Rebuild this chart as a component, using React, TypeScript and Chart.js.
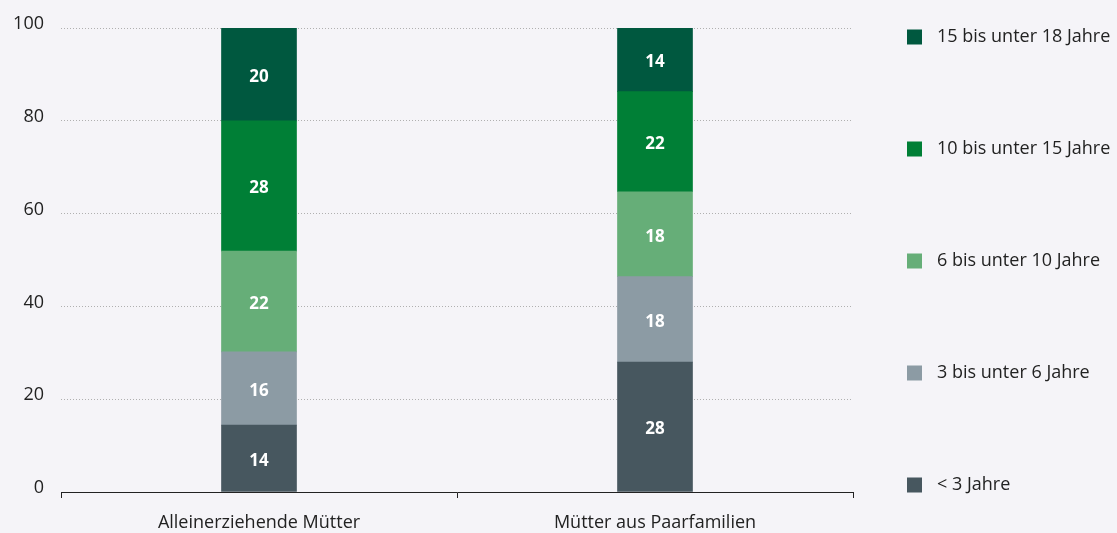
import React, { useEffect, useRef } from "react";
import { Chart, registerables } from "chart.js";

Chart.register(...registerables);

const categories = ["Alleinerziehende Mütter", "Mütter aus Paarfamilien"];
const seriesLabels = ["< 3 Jahre", "3 bis unter 6 Jahre", "6 bis unter 10 Jahre", "10 bis unter 15 Jahre", "15 bis unter 18 Jahre"];
const under3 = [14.4, 28.0];
const from3to6 = [15.8, 18.4];
const from6to10 = [21.7, 18.3];
const from10to15 = [28.1, 21.6];
const from15to18 = [20.0, 13.7];
const seriesColors = ["#47575f", "#8c9ba4", "#66ae78", "#007f36", "#00583f"];
const yTicks = [0, 20, 40, 60, 80, 100];

const FONT = "'Open Sans', 'Noto Sans', sans-serif";
const BG = "#f5f4f8";
const TEXT = "#222222";

const valueLabels = {
  id: "valueLabels",
  afterDatasetsDraw(chart: any) {
    const ctx = chart.ctx;
    ctx.save();
    ctx.fillStyle = "#ffffff";
    ctx.font = `bold 17px ${FONT}`;
    ctx.textAlign = "center";
    ctx.textBaseline = "middle";
    chart.data.datasets.forEach((ds: any, i: number) => {
      const meta = chart.getDatasetMeta(i);
      meta.data.forEach((bar: any, j: number) => {
        const v = ds.data[j];
        const y = (bar.y + bar.base) / 2;
        ctx.fillText(String(Math.round(v)), bar.x, y + 2.5);
      });
    });
    ctx.restore();
  },
};

const sideLegend = {
  id: "sideLegend",
  afterDraw(chart: any) {
    const ctx = chart.ctx;
    const ds = chart.data.datasets;
    const n = ds.length;
    const top = 37;
    const bottom = 485;
    const step = (bottom - top) / (n - 1);
    ctx.save();
    ctx.font = `18px ${FONT}`;
    ctx.textBaseline = "middle";
    ctx.textAlign = "left";
    for (let k = 0; k < n; k++) {
      const d = ds[n - 1 - k];
      const y = top + k * step;
      ctx.fillStyle = d.backgroundColor;
      ctx.fillRect(907, y - 7.5, 15, 15);
      ctx.fillStyle = TEXT;
      ctx.fillText(d.label, 937, y);
    }
    ctx.restore();
  },
};

const bgPlugin = {
  id: "bgFill",
  beforeDraw(chart: any) {
    const ctx = chart.ctx;
    ctx.save();
    ctx.fillStyle = BG;
    ctx.fillRect(0, 0, chart.width, chart.height);
    ctx.restore();
  },
};

export default function App() {
  const ref = useRef<HTMLCanvasElement | null>(null);
  useEffect(() => {
    document.body.style.margin = "0";
    document.body.style.background = BG;
    const values = [under3, from3to6, from6to10, from10to15, from15to18];
    const chart = new Chart(ref.current as HTMLCanvasElement, {
      type: "bar",
      data: {
        labels: categories,
        datasets: seriesLabels.map((label, i) => ({
          label,
          data: values[i],
          backgroundColor: seriesColors[i],
          borderWidth: 0,
          barThickness: 75,
        })),
      },
      options: {
        animation: false,
        responsive: false,
        maintainAspectRatio: false,
        layout: { padding: { top: 28, right: 264, left: 0, bottom: 0 } },
        plugins: {
          legend: { display: false },
          tooltip: { enabled: false },
        },
        scales: {
          x: {
            stacked: true,
            afterFit: (s: any) => {
              s.height = 41;
            },
            grid: {
              offset: true,
              drawOnChartArea: false,
              drawTicks: true,
              tickLength: 6,
              color: TEXT,
              lineWidth: 1,
            },
            border: { display: true, color: TEXT, width: 1 },
            ticks: {
              color: TEXT,
              font: { family: FONT, size: 18 },
              padding: 14,
            },
          },
          y: {
            stacked: true,
            min: 0,
            max: 100,
            afterFit: (s: any) => {
              s.width = 61;
            },
            afterBuildTicks: (s: any) => {
              s.ticks = yTicks.map((v) => ({ value: v }));
            },
            grid: {
              drawTicks: false,
              color: "#b0b0b0",
              lineWidth: 1,
            },
            border: { display: false, dash: [1, 2] },
            ticks: {
              color: TEXT,
              font: { family: FONT, size: 18 },
              padding: 17,
              labelOffset: -4,
            },
          },
        },
      },
      plugins: [bgPlugin, valueLabels, sideLegend],
    });
    return () => chart.destroy();
  }, []);
  return (
    <div style={{ width: 1117, height: 533, background: BG }}>
      <canvas ref={ref} width={1117} height={533} style={{ display: "block" }} />
    </div>
  );
}
